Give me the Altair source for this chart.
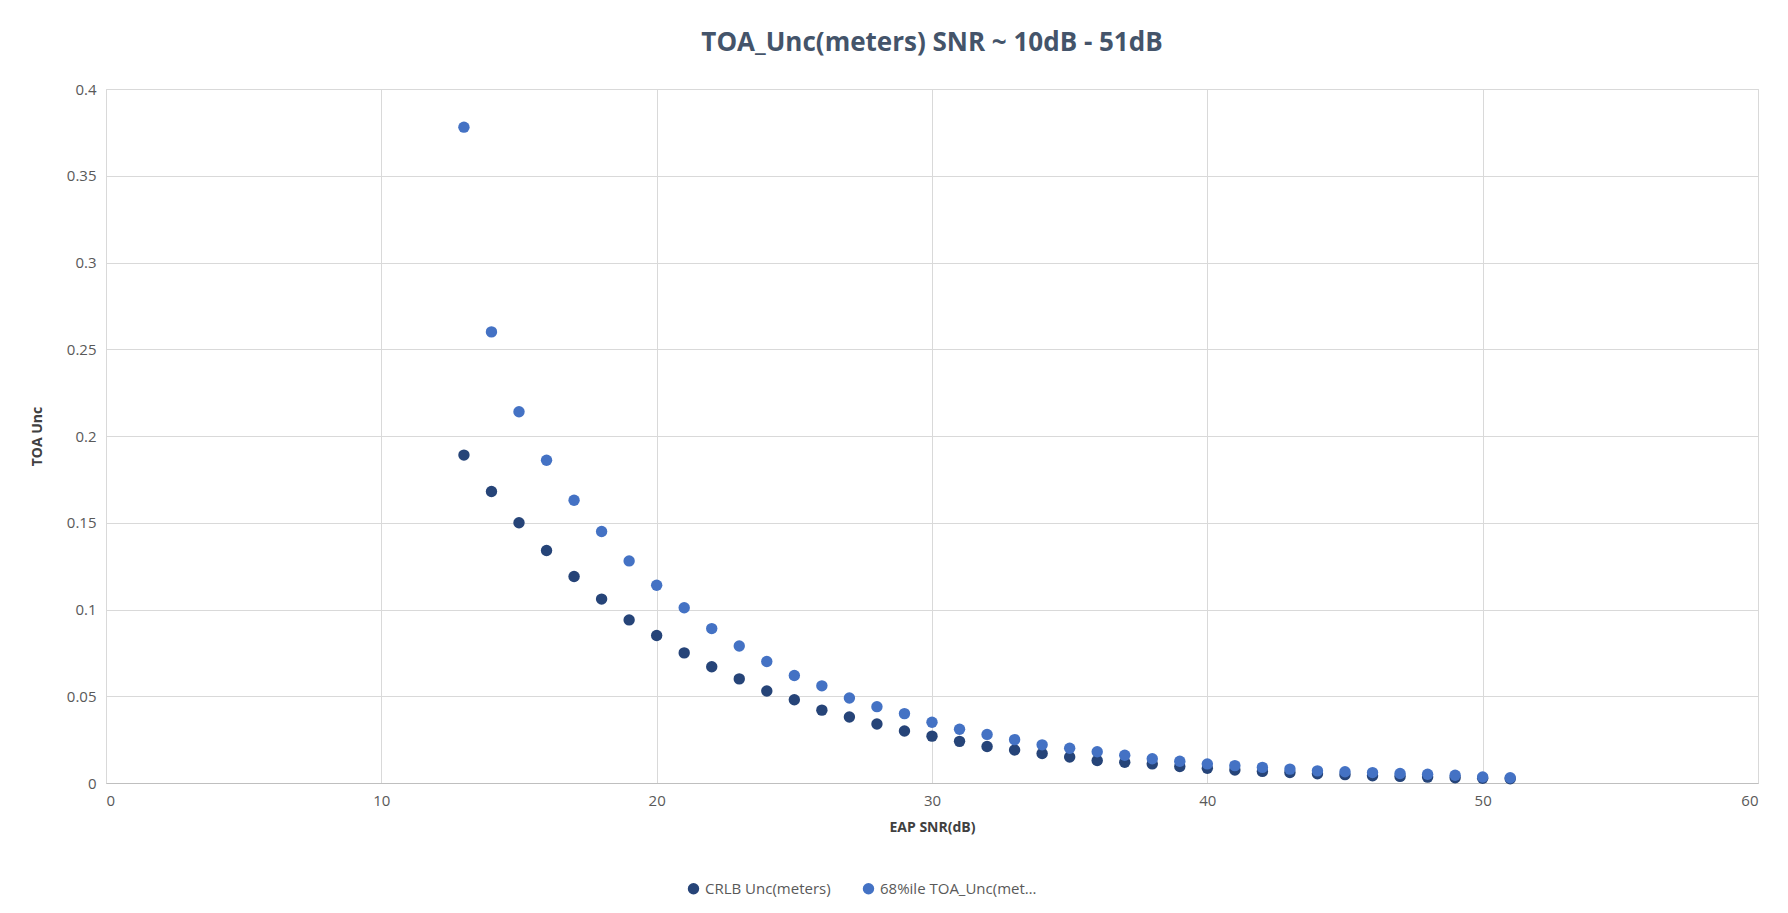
import altair as alt
import pandas as pd

snr = list(range(13, 52))
crlb = [0.189, 0.168, 0.150, 0.134, 0.119, 0.106, 0.094, 0.085, 0.075, 0.067,
        0.060, 0.053, 0.048, 0.042, 0.038, 0.034, 0.030, 0.027, 0.024, 0.021,
        0.019, 0.017, 0.015, 0.013, 0.012, 0.011, 0.0095, 0.0085, 0.0075, 0.0067,
        0.0060, 0.0053, 0.0048, 0.0042, 0.0038, 0.0034, 0.0030, 0.0027, 0.0024]
pct68 = [0.378, 0.260, 0.214, 0.186, 0.163, 0.145, 0.128, 0.114, 0.101, 0.089,
         0.079, 0.070, 0.062, 0.056, 0.049, 0.044, 0.040, 0.035, 0.031, 0.028,
         0.025, 0.022, 0.020, 0.018, 0.016, 0.014, 0.0125, 0.011, 0.010, 0.009,
         0.008, 0.007, 0.0065, 0.006, 0.0055, 0.005, 0.0045, 0.0035, 0.003]

series = ["CRLB Unc(meters)", "68%ile TOA_Unc(meters)"]
data = pd.concat([
    pd.DataFrame({"SNR": snr, "Unc": crlb, "Series": series[0]}),
    pd.DataFrame({"SNR": snr, "Unc": pct68, "Series": series[1]}),
])

font = "Open Sans"
chart = alt.Chart(data).mark_circle(size=130, opacity=1).encode(
    x=alt.X("SNR:Q", title="EAP SNR(dB)", scale=alt.Scale(domain=[0, 60], nice=False),
            axis=alt.Axis(values=[0, 10, 20, 30, 40, 50, 60], titlePadding=12)),
    y=alt.Y("Unc:Q", title="TOA Unc", scale=alt.Scale(domain=[0, 0.4], nice=False),
            axis=alt.Axis(values=[0, 0.05, 0.1, 0.15, 0.2, 0.25, 0.3, 0.35, 0.4], format="~g",
                          domain=False, titlePadding=22)),
    color=alt.Color("Series:N", title=None,
                    scale=alt.Scale(domain=series, range=["#264478", "#4472C4"]),
                    legend=alt.Legend(orient="none", legendX=580, legendY=792, direction="horizontal",
                                      symbolType="circle", labelFontSize=15, labelFont=font,
                                      labelColor="#595959", symbolSize=130, columnPadding=30)),
).properties(
    title=alt.TitleParams("TOA_Unc(meters) SNR ~ 10dB - 51dB", fontSize=26, font=font,
                          color="#44546A", fontWeight="bold", offset=26),
    width=1652, height=694,
    padding={"left": 22, "top": 22, "right": 10, "bottom": 10},
).configure_axis(
    labelFont=font, titleFont=font, labelFontSize=15, titleFontSize=14,
    labelColor="#595959", titleColor="#404040", gridColor="#D9D9D9",
    domainColor="#BFBFBF", ticks=False, labelPadding=10,
).configure_view(stroke="#D9D9D9")

chart.save("out.html", embed_options={"renderer": "svg", "actions": False})
